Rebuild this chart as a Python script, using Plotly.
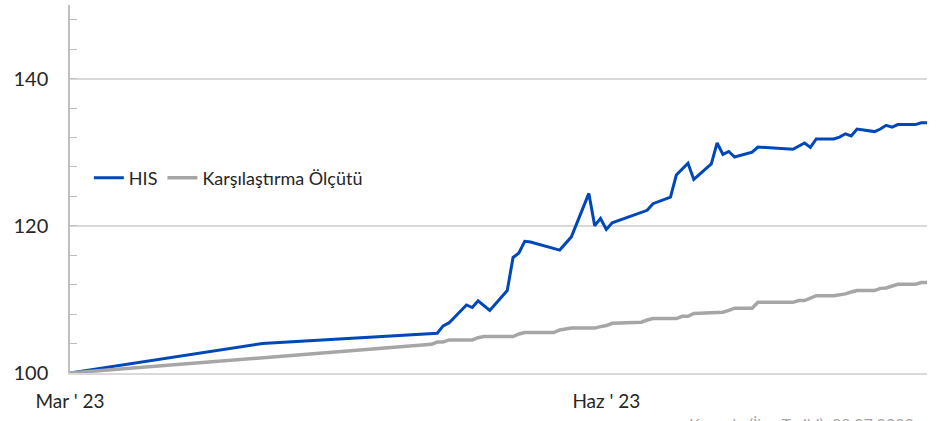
import plotly.graph_objects as go

his_dates = ["2023-03-01", "2023-04-03", "2023-05-03", "2023-05-04", "2023-05-05", "2023-05-08",
             "2023-05-09", "2023-05-10", "2023-05-12", "2023-05-15", "2023-05-16", "2023-05-17",
             "2023-05-18", "2023-05-19", "2023-05-24", "2023-05-26", "2023-05-29", "2023-05-30",
             "2023-05-31", "2023-06-01", "2023-06-02", "2023-06-05", "2023-06-08", "2023-06-09",
             "2023-06-12", "2023-06-13", "2023-06-15", "2023-06-16", "2023-06-19", "2023-06-20",
             "2023-06-21", "2023-06-22", "2023-06-23", "2023-06-26", "2023-06-27", "2023-07-03",
             "2023-07-04", "2023-07-05", "2023-07-06", "2023-07-07", "2023-07-10", "2023-07-11",
             "2023-07-12", "2023-07-13", "2023-07-14", "2023-07-17", "2023-07-18", "2023-07-19",
             "2023-07-20", "2023-07-21", "2023-07-24", "2023-07-25", "2023-07-26"]
his_values = [100, 104.0, 105.4, 106.4, 106.8, 109.25,
              108.9, 109.8, 108.5, 111.2, 115.7, 116.3,
              117.9, 117.8, 116.7, 118.5, 124.4, 120.0,
              121.0, 119.5, 120.4, 121.3, 122.1, 123.0,
              123.9, 126.9, 128.5, 126.3, 128.4, 131.25,
              129.7, 130.1, 129.35, 130.0, 130.7, 130.4,
              130.8, 131.25, 130.65, 131.8, 131.8, 132.05,
              132.5, 132.2, 133.15, 132.8, 133.15, 133.65,
              133.4, 133.75, 133.75, 134.0, 134.0]

bench_dates = ["2023-03-01", "2023-05-02", "2023-05-03", "2023-05-04", "2023-05-05", "2023-05-08",
               "2023-05-09", "2023-05-10", "2023-05-11", "2023-05-12", "2023-05-15", "2023-05-16",
               "2023-05-17", "2023-05-18", "2023-05-22", "2023-05-23", "2023-05-24", "2023-05-25",
               "2023-05-26", "2023-05-29", "2023-05-30", "2023-05-31", "2023-06-01", "2023-06-02",
               "2023-06-05", "2023-06-06", "2023-06-07", "2023-06-08", "2023-06-09", "2023-06-12",
               "2023-06-13", "2023-06-14", "2023-06-15", "2023-06-16", "2023-06-19", "2023-06-20",
               "2023-06-21", "2023-06-22", "2023-06-23", "2023-06-26", "2023-06-27", "2023-07-03",
               "2023-07-04", "2023-07-05", "2023-07-06", "2023-07-07", "2023-07-10", "2023-07-11",
               "2023-07-12", "2023-07-13", "2023-07-14", "2023-07-17", "2023-07-18", "2023-07-19",
               "2023-07-20", "2023-07-21", "2023-07-24", "2023-07-25", "2023-07-26"]
bench_values = [100, 103.9, 104.2, 104.2, 104.5, 104.5,
                104.5, 104.8, 104.95, 104.95, 104.95, 104.95,
                105.3, 105.5, 105.5, 105.5, 105.85, 106.0,
                106.1, 106.1, 106.1, 106.3, 106.45, 106.75,
                106.9, 106.9, 106.9, 107.2, 107.4, 107.4,
                107.4, 107.7, 107.7, 108.1, 108.25, 108.25,
                108.25, 108.5, 108.8, 108.8, 109.6, 109.6,
                109.85, 109.85, 110.2, 110.5, 110.5, 110.6,
                110.75, 111.0, 111.2, 111.2, 111.5, 111.55,
                111.8, 112.05, 112.05, 112.3, 112.3]

x_tick_vals = ["2023-03-01", "2023-06-01"]
x_tick_text = ["Mar ' 23", "Haz ' 23"]
y_tick_vals = [100, 120, 140]
y_tick_text = ["100", "120", "140"]

fig = go.Figure()
fig.add_trace(go.Scatter(x=his_dates, y=his_values, mode="lines", name="HIS",
                         line=dict(color="#0048B8", width=3)))
fig.add_trace(go.Scatter(x=bench_dates, y=bench_values, mode="lines", name="Karşılaştırma Ölçütü",
                         line=dict(color="#A6A6A6", width=3.5)))

fig.update_layout(
    width=939, height=421,
    margin=dict(l=70, r=12, t=5, b=48, autoexpand=False),
    paper_bgcolor="white", plot_bgcolor="white",
    font=dict(family="Lato, Open Sans, sans-serif", color="#262626"),
    showlegend=True,
    legend=dict(orientation="h", x=0.022, y=0.53, xanchor="left", yanchor="middle",
                bgcolor="rgba(0,0,0,0)", font=dict(size=18, color="#262626"),
                itemwidth=30, tracegroupgap=0),
    xaxis=dict(range=["2023-03-01", "2023-07-26"], tickvals=x_tick_vals, ticktext=x_tick_text,
               showgrid=False, showline=True, linecolor="#D9D9D9", linewidth=2,
               ticks="", tickfont=dict(size=19, color="#262626"), zeroline=False,
               ticklabelstandoff=10, automargin=False),
    yaxis=dict(range=[100, 150], tickvals=y_tick_vals, ticktext=y_tick_text,
               showgrid=True, gridcolor="#D9D9D9", gridwidth=1.5,
               showline=True, linecolor="#BFBFBF", linewidth=1.5,
               ticks="inside", ticklen=7, tickcolor="#BFBFBF",
               minor=dict(dtick=4, tick0=100, ticks="inside", ticklen=7, tickcolor="#BFBFBF", showgrid=False),
               tickfont=dict(size=20, color="#262626"), zeroline=False,
               ticklabelstandoff=16, automargin=False),
)

fig.add_annotation(text="Kaynak: (İlan Tarihi): 28.07.2023", xref="paper", yref="paper",
                   x=0.72, y=-0.105, xanchor="left", yanchor="top", showarrow=False,
                   font=dict(size=16, color="#A6A6A6"))

fig.write_html("out.html", config={"displayModeBar": False},
               post_script="document.body.style.margin='0';")
